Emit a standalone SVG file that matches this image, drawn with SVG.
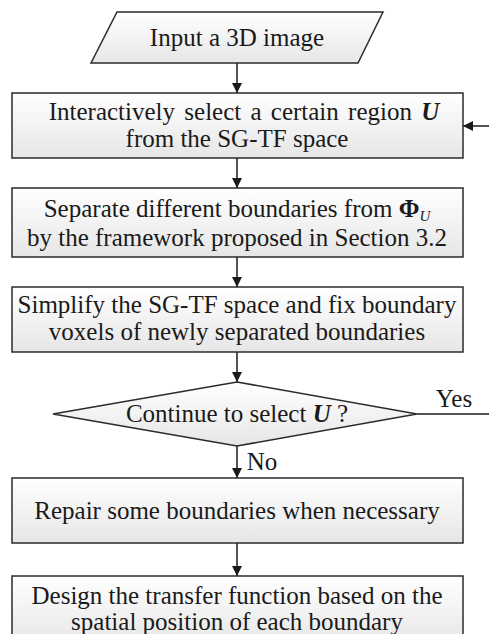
<svg xmlns="http://www.w3.org/2000/svg" width="489" height="634" viewBox="0 0 489 634">
<defs>
<linearGradient id="g" x1="0" y1="0" x2="0" y2="1">
<stop offset="0" stop-color="#ffffff"/>
<stop offset="1" stop-color="#e6e6e6"/>
</linearGradient>
<marker id="ah" viewBox="0 0 10 10" refX="10" refY="5" markerWidth="10" markerHeight="10" markerUnits="userSpaceOnUse" orient="auto">
<path d="M0,0 L10,5 L0,10 Z" fill="#1a1a1a"/>
</marker>
<style>
.n{fill:url(#g);stroke:#2b2b2b;stroke-width:1.5}
.t{font-size:25px;fill:#1a1a1a;text-anchor:middle}
.l{stroke:#1a1a1a;stroke-width:1.5;fill:none}
.bi{font-weight:bold;font-style:italic}
</style>
</defs>
<g font-family="'Liberation Serif', 'DejaVu Serif', serif">
<g id="connectors">
<line class="l" x1="237" y1="63" x2="237" y2="93" marker-end="url(#ah)"/>
<line class="l" x1="237" y1="158" x2="237" y2="188" marker-end="url(#ah)"/>
<line class="l" x1="237" y1="257" x2="237" y2="287" marker-end="url(#ah)"/>
<line class="l" x1="237" y1="352" x2="237" y2="382" marker-end="url(#ah)"/>
<line class="l" x1="237" y1="446" x2="237" y2="478" marker-end="url(#ah)"/>
<line class="l" x1="237" y1="543" x2="237" y2="576" marker-end="url(#ah)"/>
<line class="l" x1="417" y1="414" x2="489" y2="414"/>
<line class="l" x1="489" y1="126" x2="463" y2="126" marker-end="url(#ah)"/>
<text class="t" x="454" y="407">Yes</text>
<text class="t" x="262" y="470">No</text>
</g>
<g id="input">
<polygon class="n" points="117,12 383,12 358,63 91,63"/>
<text class="t" x="237" y="46">Input a 3D image</text>
</g>
<g id="select">
<rect class="n" x="12" y="93" width="451" height="65"/>
<text class="t" x="244" y="120" word-spacing="3">Interactively select a certain region <tspan class="bi">U</tspan></text>
<text class="t" x="237" y="147">from the SG-TF space</text>
</g>
<g id="separate">
<rect class="n" x="12" y="188" width="451" height="69"/>
<text class="t" x="237" y="217">Separate different boundaries from <tspan font-weight="bold">Φ</tspan><tspan font-style="italic" font-size="15" dy="4">U</tspan></text>
<text class="t" x="237" y="246">by the framework proposed in Section 3.2</text>
</g>
<g id="simplify">
<rect class="n" x="12" y="287" width="451" height="65"/>
<text class="t" x="237" y="313">Simplify the SG-TF space and fix boundary</text>
<text class="t" x="237" y="340">voxels of newly separated boundaries</text>
</g>
<g id="decision">
<polygon class="n" points="237,382 417,414 237,446 53,414"/>
<text class="t" x="237" y="422">Continue to select <tspan class="bi">U</tspan> ?</text>
</g>
<g id="repair">
<rect class="n" x="12" y="478" width="451" height="65"/>
<text class="t" x="237" y="519">Repair some boundaries when necessary</text>
</g>
<g id="design">
<rect class="n" x="12" y="576" width="451" height="70"/>
<text class="t" x="237" y="604">Design the transfer function based on the</text>
<text class="t" x="237" y="630">spatial position of each boundary</text>
</g>
</g>
</svg>
